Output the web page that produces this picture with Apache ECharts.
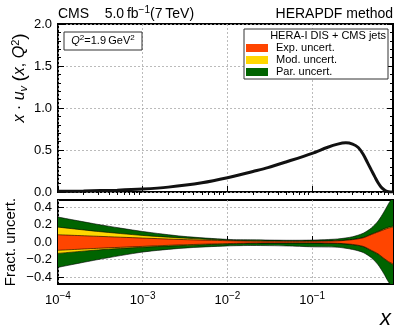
<!DOCTYPE html>
<html>
<head>
<meta charset="utf-8">
<script src="https://cdn.jsdelivr.net/npm/echarts@6/dist/echarts.min.js"></script>
<style>
  html, body, #main { width: 399px; height: 332px; margin: 0; background: #fff; }
</style>
</head>
<body>
<div id="main"></div>
<script>
// upper panel: x * u_v(x, Q^2) at Q^2 = 1.9 GeV^2
var xVals = [1e-4, 2e-4, 5e-4, 1e-3, 2e-3, 5e-3, 1e-2, 2e-2, 3e-2, 5e-2, 0.1, 0.15, 0.2, 0.25,
             0.3, 0.35, 0.4, 0.45, 0.5, 0.55, 0.6, 0.65, 0.7, 0.75, 0.8, 0.9];
var xuv = [0.008, 0.012, 0.022, 0.035, 0.058, 0.11, 0.17, 0.245, 0.29, 0.36, 0.46, 0.53, 0.57, 0.585,
           0.57, 0.53, 0.45, 0.35, 0.26, 0.18, 0.11, 0.06, 0.03, 0.01, 0.003, 0];

// lower panel: fractional uncertainties
var fx     = [1e-4, 3e-4, 1e-3, 3e-3, 1e-2, 2e-2, 5e-2, 0.1, 0.2, 0.3, 0.4, 0.5, 0.6, 0.7, 0.8, 0.9];
var parHi  = [0.285, 0.2, 0.12, 0.065, 0.03, 0.025, 0.02, 0.022, 0.035, 0.06, 0.1, 0.16, 0.24, 0.34, 0.44, 0.52];
var parLo  = [-0.29, -0.2, -0.115, -0.07, -0.045, -0.04, -0.045, -0.055, -0.06, -0.085, -0.12, -0.18, -0.26, -0.36, -0.46, -0.52];
var modHi  = [0.17, 0.12, 0.075, 0.045, 0.02, 0.013, 0.01, 0.01, 0.015, 0.03, 0.05, 0.09, 0.12, 0.15, 0.17, 0.18];
var modLo  = [-0.13, -0.09, -0.06, -0.04, -0.022, -0.014, -0.012, -0.012, -0.017, -0.03, -0.052, -0.1, -0.14, -0.19, -0.23, -0.26];
var expHi  = [0.083, 0.065, 0.045, 0.028, 0.015, 0.01, 0.008, 0.008, 0.013, 0.027, 0.048, 0.085, 0.115, 0.14, 0.16, 0.17];
var expLo  = [-0.095, -0.072, -0.05, -0.032, -0.018, -0.012, -0.01, -0.01, -0.015, -0.028, -0.05, -0.095, -0.135, -0.185, -0.225, -0.25];

var xDecades = [-4, -3, -2, -1];          // log10 of the labelled x ticks
var lowerTicks = [-0.4, -0.2, 0, 0.2, 0.4];

var FONT = 'Liberation Sans, Arial, sans-serif';
var COL_EXP = '#ff4500', COL_MOD = '#ffd700', COL_PAR = '#006400';

var xMax = Math.log10(0.9);
var minorX = [];
xDecades.forEach(function (d) {
  for (var k = 2; k <= 9; k++) {
    var v = d + Math.log10(k);
    if (v < xMax) minorX.push(v);
  }
});

function lg(arr) { return arr.map(function (v) { return Math.log10(v); }); }
var lx = lg(xVals), lfx = lg(fx);

function pairs(xs, ys) { return xs.map(function (x, i) { return [x, ys[i]]; }); }
function fmtY(v) { return v < 0 ? '\u2212' + Math.abs(v).toFixed(1) : v.toFixed(1); }

var gridLine = { show: true, lineStyle: { color: '#aaa', type: [2, 2], width: 0.8 } };

function xMajor(grid, labels) {
  return {
    type: 'value', gridIndex: grid, min: -4, max: xMax,
    axisLine: { show: false },
    axisTick: { show: true, inside: true, length: 6, customValues: xDecades, lineStyle: { color: '#000' } },
    axisLabel: {
      show: labels, customValues: xDecades, margin: 7, color: '#000', fontFamily: FONT, fontSize: 13,
      formatter: function (v) { return '10{s|\u2212' + Math.abs(Math.round(v)) + '}'; },
      rich: { s: { fontSize: 10, verticalAlign: 'bottom', padding: [0, 0, 9, 0], fontFamily: FONT, color: '#000' } }
    },
    splitLine: gridLine
  };
}
function xMinor(grid) {
  return {
    type: 'value', gridIndex: grid, min: -4, max: xMax,
    axisLine: { show: false },
    axisTick: { show: true, inside: true, length: 3, customValues: minorX, lineStyle: { color: '#000' } },
    axisLabel: { show: false }, splitLine: { show: false }
  };
}

// one closed band per series: upper edge left to right, lower edge back
function band(name, lo, hi, color) {
  return {
    name: name, type: 'custom', xAxisIndex: 2, yAxisIndex: 2, silent: true, clip: true,
    itemStyle: { color: color },
    encode: { x: 0, y: [1, 2] },
    data: lfx.map(function (x, i) { return [x, lo[i], hi[i]]; }),
    renderItem: function (params, api) {
      if (params.dataIndex !== 0) return null;
      var top = [], bot = [];
      for (var i = 0; i < lfx.length; i++) {
        top.push(api.coord([lfx[i], hi[i]]));
        bot.push(api.coord([lfx[i], lo[i]]));
      }
      // doubled end points keep the smoothed fill from bulging at the corners
      var n = top.length - 1;
      var rb = bot.slice().reverse();
      var outline = [top[0]].concat(top, [top[n], rb[0]], rb, [rb[n]]);
      var cs = params.coordSys;
      return {
        type: 'group',
        clipPath: { type: 'rect', shape: { x: cs.x, y: cs.y, width: cs.width, height: cs.height } },
        children: [
          { type: 'polygon', shape: { points: outline, smooth: 0.25 }, style: { fill: color, stroke: null } },
          { type: 'polyline', shape: { points: top, smooth: 0.25 }, style: { fill: null, stroke: '#000', lineWidth: 0.6 } },
          { type: 'polyline', shape: { points: bot, smooth: 0.25 }, style: { fill: null, stroke: '#000', lineWidth: 0.6 } }
        ]
      };
    }
  };
}

var chart = echarts.init(document.getElementById('main'), null, { renderer: 'canvas' });

chart.setOption({
  animation: false,
  backgroundColor: '#fff',
  grid: [
    { left: 58, right: 6, top: 24, height: 168, show: true, borderColor: '#000', borderWidth: 2 },
    { left: 58, right: 6, top: 200, height: 84, show: true, borderColor: '#000', borderWidth: 2 }
  ],
  xAxis: [xMajor(0, false), xMinor(0), xMajor(1, true), xMinor(1)],
  yAxis: [
    {
      type: 'value', gridIndex: 0, min: 0, max: 2, interval: 0.5,
      axisLine: { show: false },
      axisTick: { inside: true, length: 6, lineStyle: { color: '#000' } },
      minorTick: { show: true, splitNumber: 5, length: 3, lineStyle: { color: '#000' } },
      axisLabel: { color: '#000', fontFamily: FONT, fontSize: 13, margin: 6, formatter: fmtY },
      splitLine: gridLine
    },
    {
      type: 'value', gridIndex: 0, min: 0, max: 2, interval: 0.5, position: 'right',
      axisLine: { show: false },
      axisTick: { inside: true, length: 6, lineStyle: { color: '#000' } },
      minorTick: { show: true, splitNumber: 5, length: 3, lineStyle: { color: '#000' } },
      axisLabel: { show: false }, splitLine: { show: false }
    },
    {
      type: 'value', gridIndex: 1, min: -0.48, max: 0.48,
      axisLine: { show: false },
      axisTick: { inside: true, length: 6, customValues: lowerTicks, lineStyle: { color: '#000' } },
      axisLabel: { customValues: lowerTicks, color: '#000', fontFamily: FONT, fontSize: 13, margin: 6, formatter: fmtY },
      splitLine: gridLine
    },
    {
      type: 'value', gridIndex: 1, min: -0.48, max: 0.48, position: 'right',
      axisLine: { show: false },
      axisTick: { inside: true, length: 6, customValues: lowerTicks, lineStyle: { color: '#000' } },
      axisLabel: { show: false }, splitLine: { show: false }
    }
  ],
  legend: {
    orient: 'vertical', left: 246, top: 42, itemGap: 0, itemWidth: 22, itemHeight: 8,
    icon: 'rect', selectedMode: false, padding: 0, z: 10,
    textStyle: { fontFamily: FONT, fontSize: 11, lineHeight: 12, color: '#000', padding: [0, 0, 0, 3] },
    data: [
      { name: 'Exp. uncert.', itemStyle: { color: COL_EXP } },
      { name: 'Mod. uncert.', itemStyle: { color: COL_MOD } },
      { name: 'Par. uncert.', itemStyle: { color: COL_PAR } }
    ]
  },
  graphic: [
    { type: 'rect', shape: { x: 244, y: 29, width: 144, height: 50 }, style: { fill: '#fff', stroke: '#333', lineWidth: 1 }, z: 5 },
    { type: 'text', x: 386, y: 36, z: 100, style: { text: 'HERA-I DIS + CMS jets', font: '11px ' + FONT, fill: '#000', align: 'right', verticalAlign: 'middle' } },
    { type: 'rect', shape: { x: 64, y: 32, width: 78, height: 18 }, style: { fill: '#fff', stroke: '#333', lineWidth: 1 }, z: 5 },
    { type: 'text', x: 103, y: 41, z: 100, style: {
        text: '{i|Q}{s|2}=1.9\u2009GeV{s|2}', align: 'center', verticalAlign: 'middle',
        rich: {
          i: { fontFamily: FONT, fontSize: 11, fontStyle: 'italic', fill: '#000' },
          s: { fontFamily: FONT, fontSize: 8, fill: '#000', verticalAlign: 'bottom', padding: [0, 0, 6, 0] }
        },
        font: '11px ' + FONT, fill: '#000' } },
    { type: 'text', x: 58, y: 14, style: {
        text: 'CMS    5.0\u2009fb{s|\u22121}(7\u2009TeV)', verticalAlign: 'middle',
        rich: { s: { fontFamily: FONT, fontSize: 10, fill: '#000', verticalAlign: 'bottom', padding: [0, 0, 7, 0] } },
        font: '14px ' + FONT, fill: '#000' } },
    { type: 'text', x: 393, y: 14, style: { text: 'HERAPDF method', font: '14px ' + FONT, fill: '#000', align: 'right', verticalAlign: 'middle' } },
    { type: 'text', x: 20, y: 78, rotation: Math.PI / 2, style: {
        text: '{i|x} \u00b7 {i|u}{sub|v} {p|(}{i|x}, {i|Q}{sup|2}{p|)}', align: 'center', verticalAlign: 'middle',
        rich: {
          i: { fontFamily: FONT, fontSize: 16, fontStyle: 'italic', fill: '#000' },
          p: { fontFamily: FONT, fontSize: 19, fill: '#000' },
          sub: { fontFamily: FONT, fontSize: 11, fontStyle: 'italic', fill: '#000', verticalAlign: 'top', padding: [8, 0, 0, 0] },
          sup: { fontFamily: FONT, fontSize: 11, fill: '#000', verticalAlign: 'bottom', padding: [0, 0, 8, 0] }
        },
        font: '16px ' + FONT, fill: '#000' } },
    { type: 'text', x: 11, y: 242, rotation: Math.PI / 2, style: { text: 'Fract. uncert.', font: '15px ' + FONT, fill: '#000', align: 'center', verticalAlign: 'middle' } },
    { type: 'text', x: 391, y: 319, style: { text: 'x', font: 'italic 22px ' + FONT, fill: '#000', align: 'right', verticalAlign: 'middle' } }
  ],
  series: [
    {
      type: 'line', xAxisIndex: 0, yAxisIndex: 0, data: pairs(lx, xuv),
      symbol: 'none', smooth: 0.3, silent: true,
      lineStyle: { color: '#111', width: 3 }
    },
    band('Par. uncert.', parLo, parHi, COL_PAR),
    band('Mod. uncert.', modLo, modHi, COL_MOD),
    band('Exp. uncert.', expLo, expHi, COL_EXP)
  ]
});
</script>
</body>
</html>
